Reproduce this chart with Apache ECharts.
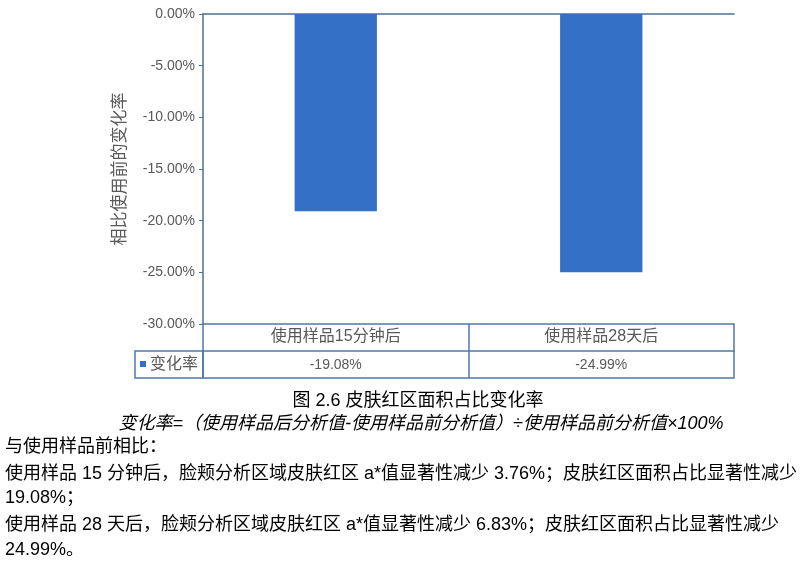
<!DOCTYPE html>
<html lang="zh-CN">
<head>
    <meta charset="utf-8" />
    <title>皮肤红区面积占比变化率</title>
    <script src="https://cdn.jsdelivr.net/npm/echarts@6/dist/echarts.min.js"></script>
    <style>
        html, body { margin: 0; padding: 0; background: #fff; }
        #main { width: 802px; height: 566px; }
    </style>
</head>
<body>
    <div id="main"></div>
    <script>
        // 数据
        var categories = ['使用样品15分钟后', '使用样品28天后'];
        var seriesName = '变化率';
        var values = [-0.1908, -0.2499];
        var yTicks = { min: -0.30, max: 0, interval: 0.05 };
        var yName = '相比使用前的变化率';
        var caption = '图 2.6 皮肤红区面积占比变化率';
        var formula = '变化率=（使用样品后分析值-使用样品前分析值）÷使用样品前分析值×100%';
        var notes = [
            '与使用样品前相比：',
            '使用样品 15 分钟后，脸颊分析区域皮肤红区 a*值显著性减少 3.76%；皮肤红区面积占比显著性减少',
            '19.08%；',
            '使用样品 28 天后，脸颊分析区域皮肤红区 a*值显著性减少 6.83%；皮肤红区面积占比显著性减少',
            '24.99%。'
        ];

        var FONT = '"Liberation Sans", "Noto Sans CJK SC", sans-serif';
        var axisColor = '#4d7094';
        var tableColor = '#4f78ab';
        var barColor = '#3470c6';
        var gray = '#595959';

        function pct(v) { return (v * 100).toFixed(2) + '%'; }

        var myChart = echarts.init(document.getElementById('main'));

        var option = {
            animation: false,
            textStyle: { fontFamily: FONT },
            grid: { left: 203, right: 68, top: 14, bottom: 242 },
            xAxis: [{
                // 0 轴（顶部）
                type: 'category',
                data: categories,
                axisLine: { onZero: true, lineStyle: { color: axisColor, width: 1.5 } },
                axisTick: { show: false },
                axisLabel: { show: false }
            }, {
                // 数据表第一行：类别
                type: 'category',
                data: categories,
                position: 'bottom',
                axisLine: { onZero: false, lineStyle: { color: tableColor, width: 1.5 } },
                axisTick: { show: true, interval: 0, length: 54, lineStyle: { color: tableColor, width: 1.5 } },
                axisLabel: { interval: 0, margin: 5, color: gray, fontSize: 16, fontFamily: FONT }
            }, {
                // 数据表第二行：数值
                type: 'category',
                data: categories,
                position: 'bottom',
                offset: 27,
                axisLine: { onZero: false, lineStyle: { color: tableColor, width: 1.5 } },
                axisTick: { show: false },
                axisLabel: {
                    interval: 0, margin: 7, color: gray, fontSize: 14, fontFamily: FONT,
                    formatter: function (v, i) { return pct(values[i]); }
                }
            }, {
                // 数据表底边
                type: 'category',
                data: categories,
                position: 'bottom',
                offset: 54,
                axisLine: { onZero: false, lineStyle: { color: tableColor, width: 1.5 } },
                axisTick: { show: false },
                axisLabel: { show: false }
            }],
            yAxis: {
                type: 'value',
                min: yTicks.min,
                max: yTicks.max,
                interval: yTicks.interval,
                name: yName,
                nameLocation: 'middle',
                nameGap: 74,
                nameTextStyle: { color: gray, fontSize: 17, fontFamily: FONT },
                axisLine: { show: true, lineStyle: { color: axisColor, width: 1.5 } },
                axisTick: { show: true, length: 4, lineStyle: { color: axisColor } },
                splitLine: { show: false },
                axisLabel: {
                    color: gray, fontSize: 14, margin: 8, fontFamily: FONT,
                    formatter: function (v) { return pct(v); }
                }
            },
            series: [{
                name: seriesName,
                type: 'bar',
                barWidth: '31%',
                itemStyle: { color: barColor },
                data: values
            }]
        };
        myChart.setOption(option);

        // 表格左侧图例单元格与文字说明
        var topLeft = myChart.convertToPixel({ gridIndex: 0 }, [0, yTicks.min]);
        var gx = 203, gy = Math.round(topLeft[1]);
        var rowH = 27;
        var graphics = [
            {
                type: 'rect',
                shape: { x: 135, y: gy + rowH, width: gx - 135, height: rowH },
                style: { fill: 'none', stroke: tableColor, lineWidth: 1.5 }
            },
            {
                type: 'rect',
                shape: { x: 140, y: gy + rowH + 10, width: 6, height: 6 },
                style: { fill: barColor }
            },
            {
                type: 'text',
                x: 150, y: gy + rowH + rowH / 2,
                style: { text: seriesName, fill: gray, font: '16px ' + FONT, textVerticalAlign: 'middle' }
            },
            {
                type: 'text',
                x: 418, y: 401,
                style: { text: caption, fill: '#000', font: '18px ' + FONT, textAlign: 'center', textVerticalAlign: 'middle' }
            },
            {
                type: 'text',
                x: 421, y: 424,
                style: { text: formula, fill: '#000', font: 'italic 18px ' + FONT, textAlign: 'center', textVerticalAlign: 'middle' }
            }
        ];
        var noteY = [447, 474, 498, 525, 550];
        notes.forEach(function (t, i) {
            graphics.push({
                type: 'text',
                x: 5, y: noteY[i],
                style: { text: t, fill: '#000', font: '18px ' + FONT, textVerticalAlign: 'middle' }
            });
        });
        myChart.setOption({ graphic: graphics });
    </script>
</body>
</html>
